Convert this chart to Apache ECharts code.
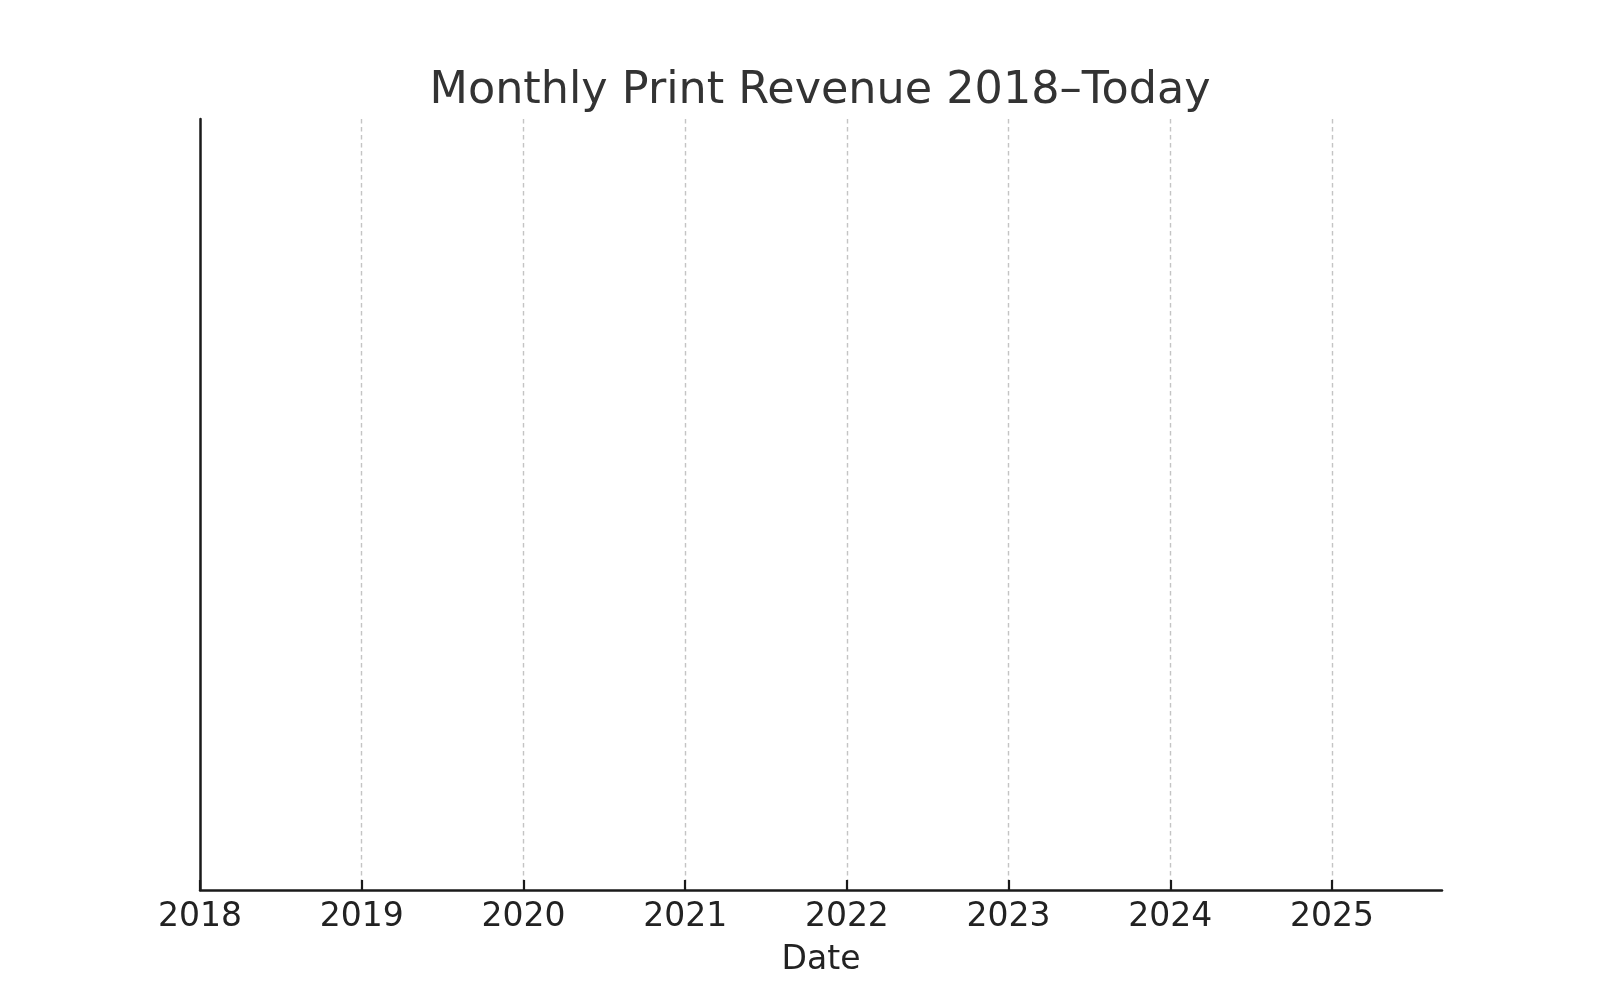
<!DOCTYPE html>
<html>
<head>
<meta charset="utf-8">
<script src="https://cdn.jsdelivr.net/npm/echarts@6/dist/echarts.min.js"></script>
<style>html,body{margin:0;padding:0;background:#fff}#c{width:1600px;height:1000px}</style>
</head>
<body>
<div id="c"></div>
<script>
// Tick labels (years) on the Date axis
const tickYears = [2018, 2019, 2020, 2021, 2022, 2023, 2024, 2025];
// Axis range in decimal years (start of 2018 to early September 2025)
const xRange = [2018, 2025.68];
// Monthly print revenue: the reference chart shows no data points
const revenueDates = [];
const revenueValues = [];

const seriesData = revenueDates.map((d, i) => [d, revenueValues[i]]);

const chart = echarts.init(document.getElementById('c'), null, {renderer: 'canvas'});
chart.setOption({
  backgroundColor: '#ffffff',
  animation: false,
  title: {
    text: 'Monthly Print Revenue 2018–Today',
    left: 815, top: 64, textAlign: 'center',
    textStyle: {fontFamily: 'DejaVu Sans', fontSize: 44.5, fontWeight: 'normal', color: '#333333'}
  },
  grid: {left: 200, right: 158, top: 119, bottom: 110, containLabel: false},
  xAxis: {
    type: 'value',
    min: xRange[0], max: xRange[1],
    name: 'Date', nameLocation: 'middle', nameGap: 54,
    nameTextStyle: {fontFamily: 'DejaVu Sans', fontSize: 33, color: '#222222'},
    axisLine: {show: true, lineStyle: {color: '#1a1a1a', width: 2.5}},
    axisTick: {show: true, inside: true, length: 10, lineStyle: {color: '#1a1a1a', width: 2.2}, customValues: tickYears},
    axisLabel: {
      show: true, margin: 11, customValues: tickYears,
      fontFamily: 'DejaVu Sans', fontSize: 33, color: '#222222',
      formatter: v => String(Math.round(v))
    },
    splitLine: {show: true, showMinLine: false, showMaxLine: true, lineStyle: {color: '#c4c4c4', width: 1.4, type: [4.5, 3.5]}}
  },
  yAxis: {
    type: 'value', min: 0, max: 1,
    axisLine: {show: true, onZero: false, lineStyle: {color: '#1a1a1a', width: 2.5}},
    axisTick: {show: false},
    axisLabel: {show: false},
    splitLine: {show: false}
  },
  series: [{
    type: 'line', name: 'Revenue', data: seriesData, showSymbol: false,
    lineStyle: {color: '#1f77b4', width: 2}
  }]
});
</script>
</body>
</html>
